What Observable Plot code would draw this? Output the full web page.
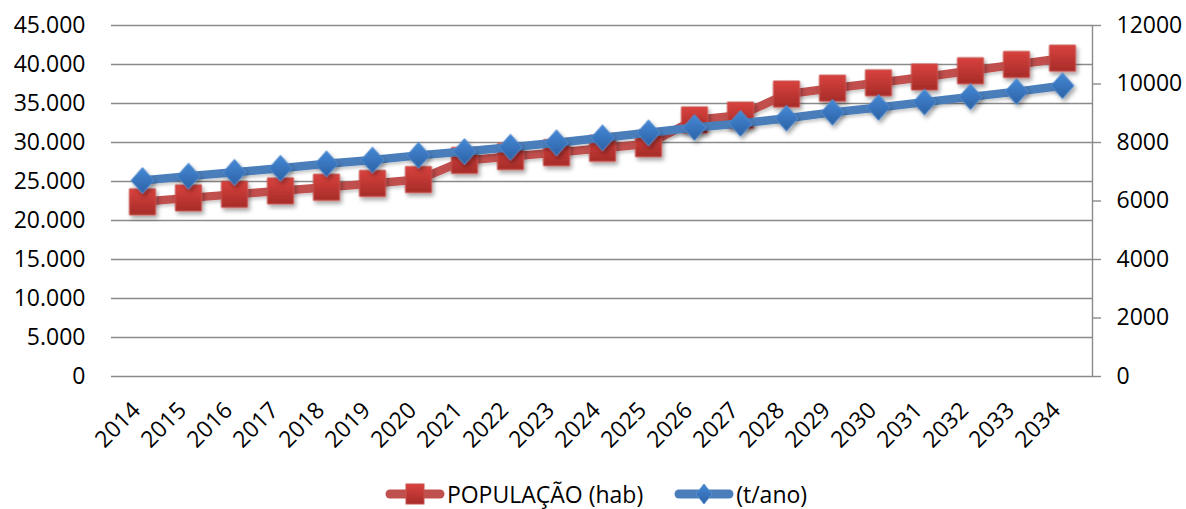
<!DOCTYPE html>
<html>
<head>
<meta charset="utf-8">
<script src="https://cdn.jsdelivr.net/npm/d3@7"></script>
<script src="https://cdn.jsdelivr.net/npm/@observablehq/plot@0.6"></script>
<style>
  body { margin: 0; background: #fff; font-family: "Open Sans", sans-serif; }
  #chart svg { display: block; }
  .legend { display: flex; justify-content: center; align-items: center; height: 30px; padding-top: 19px; padding-left: 6px; font-size: 23px; color: #000; }
  .legend .item { display: flex; align-items: center; }
  .legend .item + .item { margin-left: 31px; }
  .legend svg { display: block; margin-right: 2px; }
</style>
</head>
<body>
<div id="chart"></div>
<div class="legend" id="legend"></div>
<script>
// Anos do horizonte de projeção
const anos = ["2014","2015","2016","2017","2018","2019","2020","2021","2022","2023","2024",
              "2025","2026","2027","2028","2029","2030","2031","2032","2033","2034"];

// População (hab) — eixo esquerdo
const populacao = [22400, 22900, 23350, 23800, 24250, 24750, 25250, 27700, 28200, 28700, 29250,
                   29850, 32900, 33500, 36200, 36950, 37650, 38400, 39200, 40000, 40800];

// Geração de resíduos (t/ano) — eixo direito
const residuos = [6700, 6850, 6980, 7120, 7270, 7400, 7560, 7690, 7840, 7990, 8160,
                  8330, 8510, 8650, 8830, 9030, 9200, 9380, 9560, 9740, 9940];

// Marcas dos eixos
const ticksPop = [0, 5000, 10000, 15000, 20000, 25000, 30000, 35000, 40000, 45000];
const ticksRes = [0, 2000, 4000, 6000, 8000, 10000, 12000];

const serieNomes = ["POPULAÇÃO (hab)", "(t/ano)"];

// O eixo direito (0–12000) é mapeado sobre a escala do eixo esquerdo (0–45000)
const fator = 45000 / 12000;

const fmtBR = d3.formatLocale({decimal: ",", thousands: ".", grouping: [3], currency: ["R$ ", ""]}).format(",");

const dados = anos.map((ano, i) => ({ano, pop: populacao[i], res: residuos[i] * fator}));

// Losango um pouco mais alto que largo
const losango = {
  draw(ctx, size) {
    const h = Math.sqrt(size / Math.PI);
    const w = h * 0.885;
    ctx.moveTo(0, -h); ctx.lineTo(w, 0); ctx.lineTo(0, h); ctx.lineTo(-w, 0); ctx.closePath();
  }
};

const cinza = "#8a8a8a";
const vermelho = "#C0504D";
const azul = "#4A7EBB";

const grafico = Plot.plot({
  width: 1186,
  height: 460,
  marginTop: 25,
  marginBottom: 84,
  marginLeft: 111,
  marginRight: 94,
  style: {fontFamily: "Open Sans, sans-serif", fontSize: "23px", color: "#000", background: "#fff", overflow: "visible"},
  x: {type: "point", domain: anos, padding: 0.5, label: null},
  y: {domain: [0, 45000], label: null},
  marks: [
    Plot.gridY(ticksPop, {stroke: cinza, strokeOpacity: 1, strokeWidth: 1.4}),
    Plot.frame({anchor: "right", stroke: cinza, strokeWidth: 1.4}),
    Plot.axisY(ticksPop, {anchor: "left", tickSize: 0, tickPadding: 26, tickFormat: fmtBR, label: null}),
    Plot.axisY(ticksRes.map(v => v * fator), {
      anchor: "right", tickSize: 8, tickPadding: 16, stroke: cinza, strokeWidth: 1.4,
      tickFormat: v => String(Math.round(v / fator)), label: null
    }),
    Plot.axisX({tickSize: 0, tickRotate: -45, tickPadding: 30, dx: -6, label: null}),
    Plot.line(dados, {x: "ano", y: "pop", stroke: vermelho, strokeWidth: 8.5, strokeLinejoin: "round"}),
    Plot.dot(dados, {x: "ano", y: "pop", symbol: "square", r: 14.7, fill: "url(#gradVermelho)", stroke: "#c9514e", strokeWidth: 1}),
    Plot.line(dados, {x: "ano", y: "res", stroke: azul, strokeWidth: 8.5, strokeLinejoin: "round"}),
    Plot.dot(dados, {x: "ano", y: "res", symbol: losango, r: 13, fill: "url(#gradAzul)", stroke: "#5a8fd0", strokeWidth: 1})
  ]
});

// Gradientes e sombras dos marcadores
function addDefs(svgSel) {
  const defs = svgSel.insert("defs", ":first-child");
  const g1 = defs.append("linearGradient").attr("id", "gradVermelho").attr("x1", 0).attr("y1", 0).attr("x2", 0).attr("y2", 1);
  g1.append("stop").attr("offset", "0%").attr("stop-color", "#d9423e");
  g1.append("stop").attr("offset", "100%").attr("stop-color", "#a62c29");
  const g2 = defs.append("linearGradient").attr("id", "gradAzul").attr("x1", 0).attr("y1", 0).attr("x2", 0).attr("y2", 1);
  g2.append("stop").attr("offset", "0%").attr("stop-color", "#4589d6");
  g2.append("stop").attr("offset", "100%").attr("stop-color", "#2c62a6");
  const f = defs.append("filter").attr("id", "sombra").attr("x", "-20%").attr("y", "-20%").attr("width", "140%").attr("height", "140%");
  f.append("feDropShadow").attr("dx", 2).attr("dy", 3).attr("stdDeviation", 2).attr("flood-color", "#000").attr("flood-opacity", 0.35);
  const fl = defs.append("filter").attr("id", "sombraLinha").attr("x", "-5%").attr("y", "-20%").attr("width", "110%").attr("height", "140%");
  fl.append("feDropShadow").attr("dx", 1.5).attr("dy", 2.5).attr("stdDeviation", 1.5).attr("flood-color", "#000").attr("flood-opacity", 0.2);
}

const svg = d3.select(grafico);
addDefs(svg);
svg.selectAll('g[aria-label="dot"]').attr("filter", "url(#sombra)");
svg.selectAll('g[aria-label="line"]').attr("filter", "url(#sombraLinha)");
document.getElementById("chart").appendChild(grafico);

// Legenda
const legenda = d3.select("#legend");
serieNomes.forEach((nome, i) => {
  const item = legenda.append("div").attr("class", "item");
  const s = item.append("svg").attr("width", 60).attr("height", 26);
  addDefs(s);
  s.append("line").attr("x1", 5).attr("x2", 55).attr("y1", 13).attr("y2", 13)
    .attr("stroke", i === 0 ? vermelho : azul).attr("stroke-width", 9).attr("stroke-linecap", "round");
  if (i === 0) {
    s.append("rect").attr("x", 21).attr("y", 3).attr("width", 18).attr("height", 20)
      .attr("fill", "url(#gradVermelho)").attr("stroke", "#c9514e");
  } else {
    s.append("path").attr("d", "M30,3L38,13L30,23L22,13Z")
      .attr("fill", "url(#gradAzul)").attr("stroke", "#5a8fd0");
  }
  item.append("span").text(nome);
});
</script>
</body>
</html>
